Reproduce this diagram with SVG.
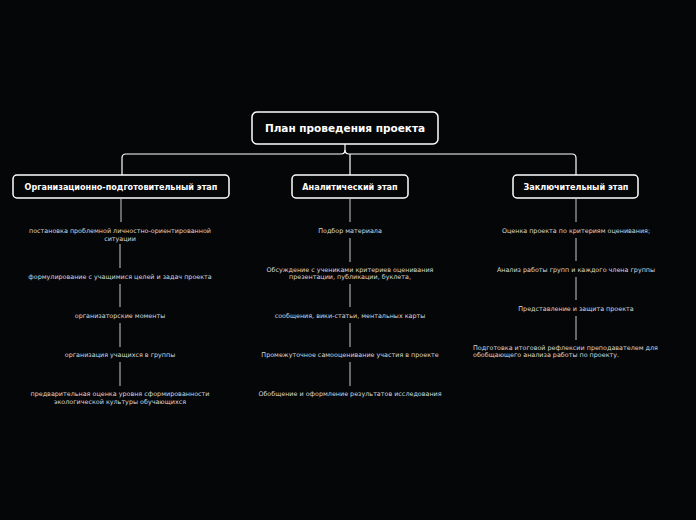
<svg xmlns="http://www.w3.org/2000/svg" width="696" height="520" viewBox="0 0 696 520">
<style>
.box{fill:#050608;stroke:#ffffff;stroke-width:1.5}
.t0{font-family:"DejaVu Sans",sans-serif;font-weight:bold;font-size:10.5px;fill:#ffffff;text-anchor:middle}
.t1{font-family:"DejaVu Sans",sans-serif;font-weight:bold;font-size:8.1px;fill:#ffffff;text-anchor:middle}
.it{font-family:"DejaVu Sans",sans-serif;font-size:6.4px;fill:#d8d8d8;text-anchor:middle}
.itl{font-family:"DejaVu Sans",sans-serif;font-size:6.4px;fill:#d8d8d8}
.c{fill:none;stroke:#c8c8c8;stroke-width:1}
.cm{fill:none;stroke:#ffffff;stroke-width:1.2}
</style>
<rect width="696" height="520" fill="#050608"/>
<g id="connectors">
<path class="cm" d="M345,144 V150 Q345,154 349,154 H572 Q576,154 576,158 V175"/>
<path class="cm" d="M345,150 Q345,154 341,154 H126 Q122,154 122,158 V175"/>
<path class="cm" d="M350,154 V175"/>
<path class="c" d="M121,199 V222 M120,244 V268 M120,284 V307 M120,323 V347 M120,362 V386"/>
<path class="c" d="M350,199 V222 M350,238 V262 M350,284 V307 M350,323 V347 M350,362 V386"/>
<path class="c" d="M576,199 V222 M576,238 V261 M576,277 V300 M576,316 V340"/>
</g>
<g id="root"><rect class="box" x="252" y="112" width="186" height="32" rx="5"/><text class="t0" x="345" y="132">План проведения проекта</text></g>
<g id="stage1"><rect class="box" x="13" y="175" width="216" height="23" rx="4"/><text class="t1" x="121" y="190">Организационно-подготовительный этап</text></g>
<g id="stage2"><rect class="box" x="292" y="175" width="116" height="23" rx="4"/><text class="t1" x="350" y="190">Аналитический этап</text></g>
<g id="stage3"><rect class="box" x="513" y="175" width="125" height="23" rx="4"/><text class="t1" x="576" y="190">Заключительный этап</text></g>
<g id="l1"><text class="it" x="120" y="233">постановка проблемной личностно-ориентированной</text><text class="it" x="120" y="241">ситуации</text></g>
<g id="l2"><text class="it" x="120" y="279">формулирование с учащимися целей и задач проекта</text></g>
<g id="l3"><text class="it" x="120" y="318">организаторские моменты</text></g>
<g id="l4"><text class="it" x="120" y="357">организация учащихся в группы</text></g>
<g id="l5"><text class="it" x="120" y="396">предварительная оценка уровня сформированности</text><text class="it" x="120" y="404">экологической культуры обучающихся</text></g>
<g id="m1"><text class="it" x="350" y="233">Подбор материала</text></g>
<g id="m2"><text class="it" x="350" y="272">Обсуждение с учениками критериев оценивания</text><text class="it" x="350" y="279">презентации, публикации, буклета,</text></g>
<g id="m3"><text class="it" x="350" y="318">сообщения, вики-статьи, ментальных карты</text></g>
<g id="m4"><text class="it" x="350" y="357">Промежуточное самооценивание участия в проекте</text></g>
<g id="m5"><text class="it" x="350" y="396">Обобщение и оформление результатов исследования</text></g>
<g id="r1"><text class="it" x="576" y="233">Оценка проекта по критериям оценивания;</text></g>
<g id="r2"><text class="it" x="576" y="272">Анализ работы групп и каждого члена группы</text></g>
<g id="r3"><text class="it" x="576" y="311">Представление и защита проекта</text></g>
<g id="r4"><text class="itl" x="473" y="350">Подготовка итоговой рефлексии преподавателем для</text><text class="itl" x="473" y="357">обобщающего анализа работы по проекту.</text></g>
</svg>
